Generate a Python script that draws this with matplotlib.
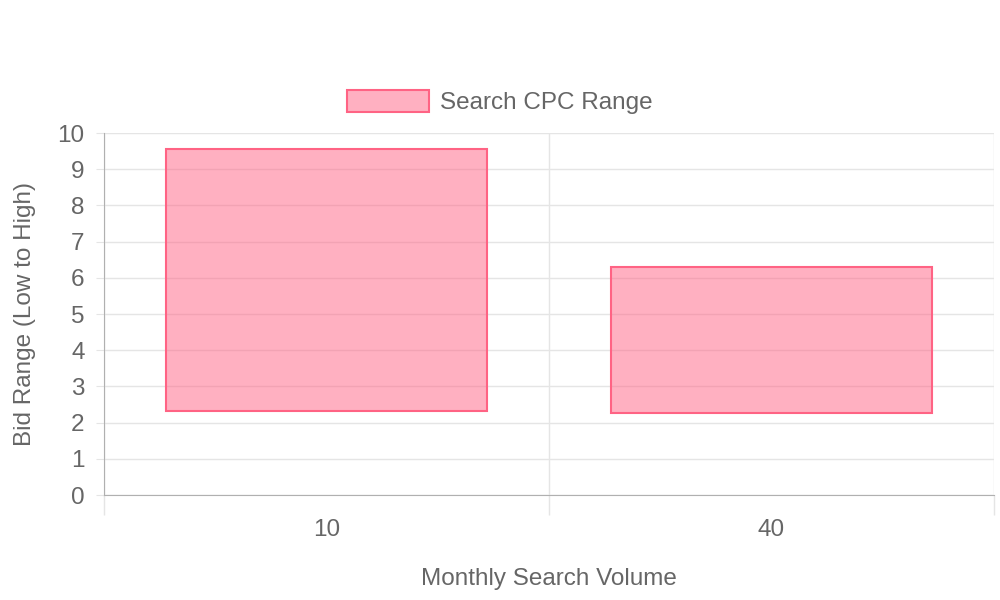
import matplotlib.pyplot as plt
from matplotlib.ticker import MultipleLocator, FixedLocator

plt.rcParams['font.family'] = ['Liberation Sans', 'DejaVu Sans']

# Data
categories = ['10', '40']
low_bids = [2.32, 2.26]
high_bids = [9.55, 6.29]
series_name = 'Search CPC Range'

fill_color = (1.0, 0.388, 0.518, 0.5)
edge_color = '#FF6384'
text_color = '#666666'
grid_color = '#e5e5e5'
axis_color = '#b0b0b0'
fs = 17.5

fig = plt.figure(figsize=(10, 6), dpi=100)
ax = fig.add_axes([0.104, 0.175, 0.890, 0.6033])

x = list(range(len(categories)))
heights = [h - l for l, h in zip(low_bids, high_bids)]
ax.bar(x, heights, bottom=low_bids, width=0.72, color=fill_color,
       edgecolor=edge_color, linewidth=1.5, label=series_name, zorder=3)

ax.set_xlim(-0.5, len(categories) - 0.5)
ax.set_ylim(0, 10)

# y axis
ax.yaxis.set_major_locator(MultipleLocator(1))
ax.tick_params(axis='y', which='major', length=6, color=grid_color,
               labelsize=fs, labelcolor=text_color, pad=8)
ax.yaxis.grid(True, color=grid_color, linewidth=1, zorder=0)

# x axis: labels at centres, grid/ticks at category edges
ax.set_xticks(x)
ax.set_xticklabels(categories)
ax.xaxis.set_minor_locator(FixedLocator([i - 0.5 for i in range(len(categories) + 1)]))
ax.tick_params(axis='x', which='major', length=0, labelsize=fs,
               labelcolor=text_color, pad=17)
ax.tick_params(axis='x', which='minor', length=14.5, color=grid_color, width=1)
ax.xaxis.grid(True, which='minor', color=grid_color, linewidth=1, zorder=0)

for side in ['top', 'right']:
    ax.spines[side].set_visible(False)
ax.spines['left'].set_color(axis_color)
ax.spines['bottom'].set_color(axis_color)
ax.set_axisbelow(True)

ax.set_xlabel('Monthly Search Volume', fontsize=fs, color=text_color, labelpad=20)
ax.set_ylabel('Bid Range (Low to High)', fontsize=fs, color=text_color, labelpad=15.5)

fig.legend(loc='center', bbox_to_anchor=(0.5, 1 - 102 / 600), frameon=False,
           fontsize=fs, handlelength=3.37, handleheight=1.03,
           handletextpad=0.45, labelcolor=text_color)

fig.savefig('out.png', dpi=100)
